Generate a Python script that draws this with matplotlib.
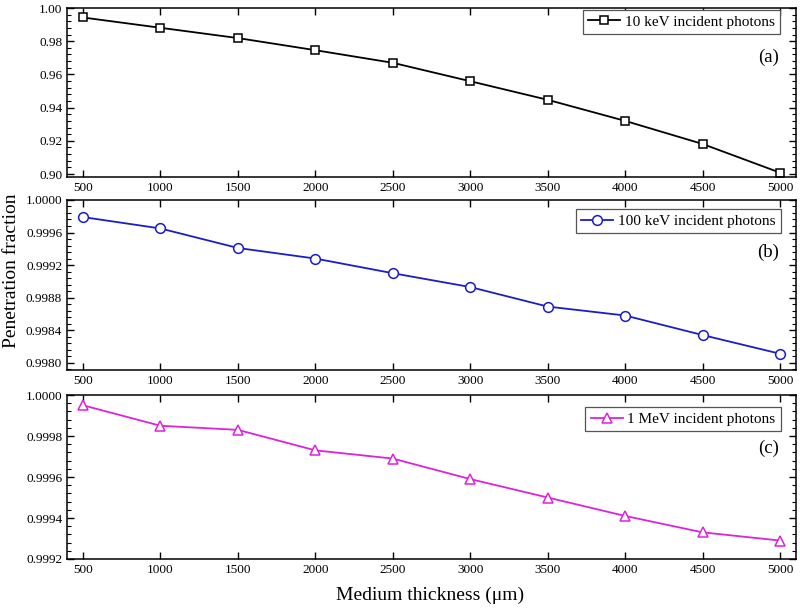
import matplotlib
matplotlib.use("Agg")
import matplotlib.pyplot as plt
from matplotlib.ticker import MultipleLocator, AutoMinorLocator, FormatStrFormatter

plt.rcParams['font.family'] = ['Liberation Serif', 'DejaVu Serif']

# medium thickness (um)
thickness = [500, 1000, 1500, 2000, 2500, 3000, 3500, 4000, 4500, 5000]

# penetration fraction for each photon energy
frac_10kev = [0.9943, 0.9881, 0.9819, 0.9746, 0.9670, 0.9559, 0.9447, 0.9320, 0.9181, 0.9008]
frac_100kev = [0.99979, 0.99965, 0.99941, 0.99928, 0.99910, 0.99893, 0.99869, 0.99858, 0.99834, 0.99811]
frac_1mev = [0.99995, 0.99985, 0.99983, 0.99973, 0.99969, 0.99959, 0.99950, 0.99941, 0.99933, 0.99929]

labels = ["10 keV incident photons", "100 keV incident photons", "1 MeV incident photons"]
letters = ["(a)", "(b)", "(c)"]

fig = plt.figure(figsize=(8, 6.08), dpi=100)

# axes boxes in figure coords (bottom, top)
left, right = 0.08375, 0.995
boxes = [
    (0.7089, 0.9868),
    (0.3914, 0.6711),
    (0.0806, 0.3503),
]

series = [frac_10kev, frac_100kev, frac_1mev]
colors = ["black", "#1c1cc8", "#dd22dd"]
markers = ["s", "o", "^"]
msizes = [6.2, 7.0, 7.2]
ylims = [(0.8982, 1.0), (0.99791, 1.0), (0.9992, 1.0)]
ymajor = [0.02, 0.0004, 0.0002]
yfmt = ["%.2f", "%.4f", "%.4f"]
leg_anchor = [(0.978, 0.991), (0.979, 0.947), (0.979, 0.927)]
letter_y = [0.71, 0.694, 0.677]

for i in range(3):
    b, t = boxes[i]
    ax = fig.add_axes([left, b, right - left, t - b])
    ax.plot(thickness, series[i], color=colors[i], lw=1.3, marker=markers[i],
            ms=msizes[i], mfc="white", mec=colors[i], mew=1.1, label=labels[i])
    ax.set_xlim(397, 5103)
    ax.set_ylim(*ylims[i])
    ax.xaxis.set_major_locator(MultipleLocator(500))
    ax.yaxis.set_major_locator(MultipleLocator(ymajor[i]))
    ax.yaxis.set_minor_locator(AutoMinorLocator(5))
    ax.yaxis.set_major_formatter(FormatStrFormatter(yfmt[i]))
    ax.tick_params(which="both", direction="in", top=True, right=True, labelsize=9.5)
    ax.tick_params(which="major", length=5, width=1.0, pad=3.5)
    ax.tick_params(which="minor", length=3, width=0.8)
    for s in ax.spines.values():
        s.set_linewidth(1.1)

    leg = ax.legend(loc="upper right", bbox_to_anchor=leg_anchor[i], borderaxespad=0,
                    fontsize=11, fancybox=False, framealpha=1, edgecolor="#555555",
                    handlelength=2.1, handletextpad=0.3, borderpad=0.35)
    leg.get_frame().set_linewidth(0.9)

    ax.text(0.977, letter_y[i], letters[i], transform=ax.transAxes,
            ha="right", va="center", fontsize=13.5)

fig.text(0.015, 0.555, "Penetration fraction", rotation=90, ha="center", va="center", fontsize=14)
fig.text(0.538, 0.021, "Medium thickness (μm)", ha="center", va="center", fontsize=14)

fig.savefig("out.png", dpi=100)
